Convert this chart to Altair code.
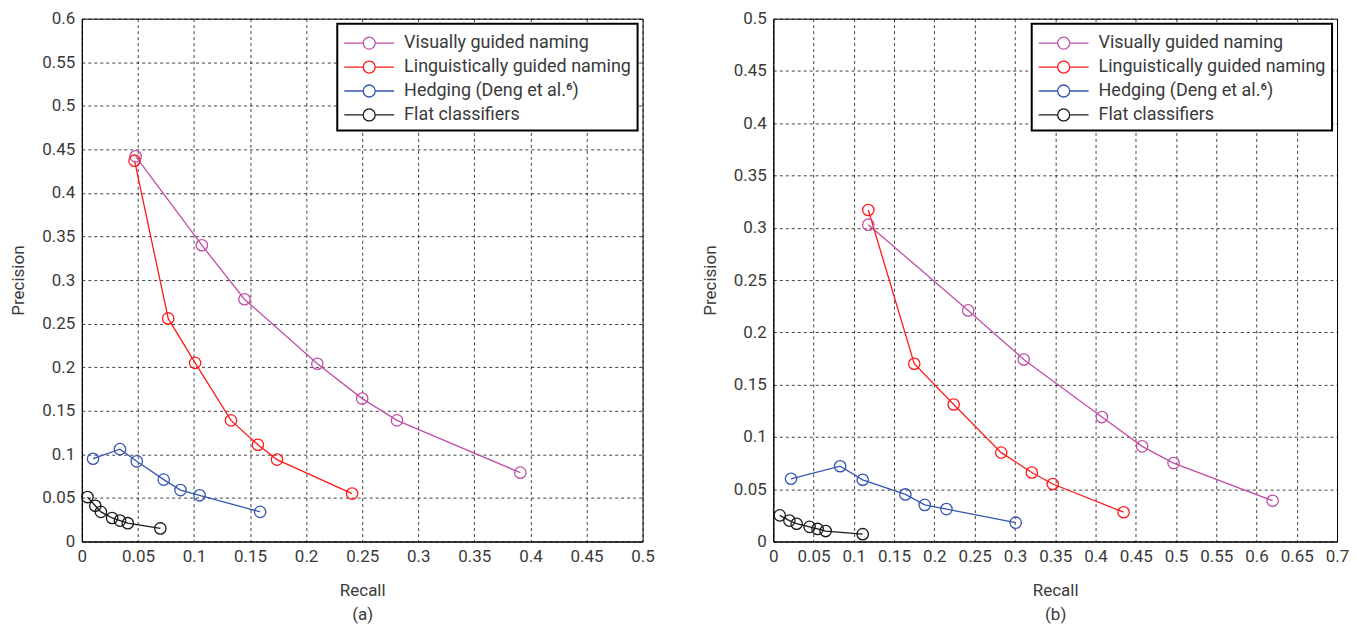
import altair as alt
import pandas as pd

series_names = ["Visually guided naming", "Linguistically guided naming",
                "Hedging (Deng et al.\u2076)", "Flat classifiers"]
series_colors = ["#c04fa8", "#ff1a1a", "#3555b2", "#1a1a1a"]

# Panel (a)
a_visual_recall = [0.048, 0.107, 0.145, 0.210, 0.250, 0.281, 0.391]
a_visual_prec = [0.442, 0.340, 0.278, 0.204, 0.164, 0.139, 0.079]
a_ling_recall = [0.047, 0.077, 0.101, 0.133, 0.157, 0.174, 0.241]
a_ling_prec = [0.437, 0.256, 0.205, 0.139, 0.111, 0.094, 0.055]
a_hedge_recall = [0.010, 0.034, 0.049, 0.073, 0.088, 0.105, 0.159]
a_hedge_prec = [0.095, 0.106, 0.092, 0.071, 0.059, 0.053, 0.034]
a_flat_recall = [0.005, 0.012, 0.017, 0.027, 0.034, 0.041, 0.070]
a_flat_prec = [0.051, 0.041, 0.034, 0.027, 0.024, 0.021, 0.015]

# Panel (b)
b_visual_recall = [0.118, 0.242, 0.311, 0.408, 0.458, 0.497, 0.620]
b_visual_prec = [0.303, 0.221, 0.174, 0.119, 0.091, 0.075, 0.039]
b_ling_recall = [0.118, 0.175, 0.224, 0.283, 0.321, 0.347, 0.435]
b_ling_prec = [0.317, 0.170, 0.131, 0.085, 0.066, 0.055, 0.028]
b_hedge_recall = [0.022, 0.083, 0.111, 0.164, 0.188, 0.215, 0.301]
b_hedge_prec = [0.060, 0.072, 0.059, 0.045, 0.035, 0.031, 0.018]
b_flat_recall = [0.008, 0.020, 0.029, 0.045, 0.055, 0.065, 0.111]
b_flat_prec = [0.025, 0.020, 0.017, 0.014, 0.012, 0.010, 0.007]

a_x_ticks = [0, 0.05, 0.1, 0.15, 0.2, 0.25, 0.3, 0.35, 0.4, 0.45, 0.5]
a_y_ticks = [0, 0.05, 0.1, 0.15, 0.2, 0.25, 0.3, 0.35, 0.4, 0.45, 0.5, 0.55, 0.6]
b_x_ticks = [0, 0.05, 0.1, 0.15, 0.2, 0.25, 0.3, 0.35, 0.4, 0.45, 0.5, 0.55, 0.6, 0.65, 0.7]
b_y_ticks = [0, 0.05, 0.1, 0.15, 0.2, 0.25, 0.3, 0.35, 0.4, 0.45, 0.5]


def build(groups):
    rows = []
    for name, (rec, prec) in zip(series_names, groups):
        for i, (r, p) in enumerate(zip(rec, prec)):
            rows.append({"series": name, "idx": i, "recall": r, "precision": p})
    return pd.DataFrame(rows)


df_a = build([(a_visual_recall, a_visual_prec), (a_ling_recall, a_ling_prec),
              (a_hedge_recall, a_hedge_prec), (a_flat_recall, a_flat_prec)])
df_b = build([(b_visual_recall, b_visual_prec), (b_ling_recall, b_ling_prec),
              (b_hedge_recall, b_hedge_prec), (b_flat_recall, b_flat_prec)])

FONT = "Roboto"
TXT = "#3a3a3a"
# legend glyph: a short line with an open circle in its middle
legend_path = ("M-1,0L0.52,0M1.48,0L3,0"
               "M0.52,0A0.48,0.48,0,1,1,1.48,0A0.48,0.48,0,1,1,0.52,0")


def panel(df, xticks, yticks, tag, w):
    xmax = xticks[-1]
    ymax = yticks[-1]
    color = alt.Color(
        "series:N",
        scale=alt.Scale(domain=series_names, range=series_colors),
        legend=alt.Legend(
            title=None, orient="top-right", offset=5,
            strokeColor="black", padding=6, fillColor="white",
            symbolType=legend_path, symbolSize=625, symbolStrokeWidth=1.3,
            symbolFillColor="transparent", symbolOpacity=1,
            labelFont=FONT, labelFontSize=18, labelColor=TXT, labelLimit=400,
            labelOffset=34, rowPadding=1,
        ),
    )
    x = alt.X("recall:Q", scale=alt.Scale(domain=[0, xmax], nice=False),
              axis=alt.Axis(values=xticks, format="~g", title=["Recall", tag],
                            titleLineHeight=24, titlePadding=18))
    y = alt.Y("precision:Q", scale=alt.Scale(domain=[0, ymax], nice=False),
              axis=alt.Axis(values=yticks, format="~g", title="Precision",
                            titlePadding=14))
    base = alt.Chart(df).encode(x=x, y=y, color=color, order="idx:Q")
    line = base.mark_line(strokeWidth=1.3)
    pts = base.mark_point(shape="circle", filled=False, size=130, strokeWidth=1.3, opacity=1)
    return alt.layer(line, pts).properties(width=w, height=524)


left = panel(df_a, a_x_ticks, a_y_ticks, "(a)", 562)
right = panel(df_b, b_x_ticks, b_y_ticks, "(b)", 565)

chart = (
    alt.hconcat(left, right, spacing=45)
    .resolve_scale(color="independent")
    .resolve_legend(color="independent")
    .properties(padding={"top": 0, "left": 1, "right": 5, "bottom": 5})
    .configure_view(stroke="black", strokeWidth=1)
    .configure_legend(strokeWidth=2)
    .configure_axis(
        labelFont=FONT, labelFontSize=17, labelColor=TXT,
        titleFont=FONT, titleFontSize=17, titleColor=TXT, titleFontWeight="normal",
        grid=True, gridColor="black", gridDash=[3, 3], gridOpacity=0.75, gridWidth=1,
        domainColor="black", ticks=False, labelPadding=7,
        labelFlush=False,
    )
)

chart.save("out.html", embed_options={"renderer": "svg", "actions": False})
